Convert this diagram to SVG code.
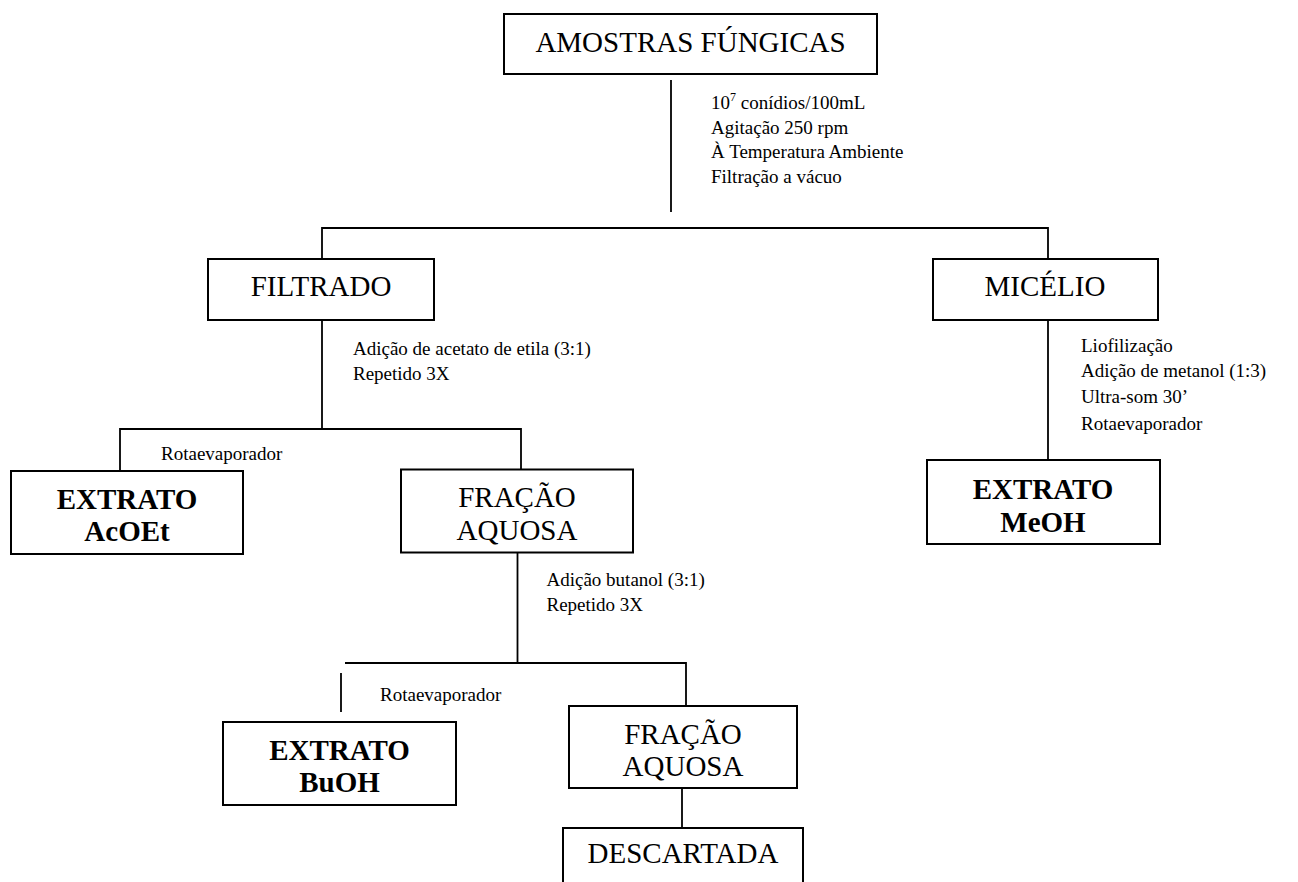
<svg xmlns="http://www.w3.org/2000/svg" width="1298" height="882" viewBox="0 0 1298 882">
<style>
.box{fill:#fff;stroke:#000;stroke-width:2}
.ln{stroke:#000;stroke-width:1.8;fill:none}
.big{font-family:"Liberation Serif","Times New Roman",serif;font-size:29px;fill:#000;text-anchor:middle}
.bold{font-weight:bold}
.sm{font-family:"Liberation Serif","Times New Roman",serif;font-size:19px;fill:#000}
</style>
<rect width="1298" height="882" fill="#fff"/>
<g id="connectors">
<line class="ln" x1="671" y1="80" x2="671" y2="212"/>
<polyline class="ln" points="322,259 322,228 1048,228 1048,259"/>
<line class="ln" x1="322" y1="320" x2="322" y2="429"/>
<polyline class="ln" points="120,471 120,429 521,429 521,469.5"/>
<line class="ln" x1="1048" y1="320" x2="1048" y2="460"/>
<line class="ln" x1="517.5" y1="552.5" x2="517.5" y2="663"/>
<polyline class="ln" points="345,663 686,663 686,706"/>
<line class="ln" x1="341" y1="673" x2="341" y2="712"/>
<line class="ln" x1="682" y1="788" x2="682" y2="828"/>
</g>
<g id="labels">
<text class="sm" x="711" y="109">10<tspan font-size="12" dy="-8">7</tspan><tspan dy="8"> conídios/100mL</tspan></text>
<text class="sm" x="711" y="133.5">Agitação 250 rpm</text>
<text class="sm" x="711" y="158">À Temperatura Ambiente</text>
<text class="sm" x="711" y="182.5">Filtração a vácuo</text>
<text class="sm" x="353" y="355">Adição de acetato de etila (3:1)</text>
<text class="sm" x="353" y="380">Repetido 3X</text>
<text class="sm" x="161" y="459.5">Rotaevaporador</text>
<text class="sm" x="1081" y="352">Liofilização</text>
<text class="sm" x="1081" y="377">Adição de metanol (1:3)</text>
<text class="sm" x="1081" y="403">Ultra-som 30’</text>
<text class="sm" x="1081" y="430">Rotaevaporador</text>
<text class="sm" x="546.5" y="585.5">Adição butanol (3:1)</text>
<text class="sm" x="546.5" y="610.5">Repetido 3X</text>
<text class="sm" x="380" y="701">Rotaevaporador</text>
</g>
<g id="amostras">
<rect class="box" x="504" y="14" width="373" height="60"/>
<text class="big" x="690.5" y="52">AMOSTRAS FÚNGICAS</text>
</g>
<g id="filtrado">
<rect class="box" x="208" y="259" width="226" height="61"/>
<text class="big" x="321" y="296">FILTRADO</text>
</g>
<g id="micelio">
<rect class="box" x="933" y="259" width="225" height="61"/>
<text class="big" x="1045" y="296">MICÉLIO</text>
</g>
<g id="extrato-acoet">
<rect class="box" x="11" y="471" width="232" height="83"/>
<text class="big bold" x="127" y="509">EXTRATO</text>
<text class="big bold" x="127" y="541">AcOEt</text>
</g>
<g id="fracao-aquosa-1">
<rect class="box" x="401" y="469.5" width="232" height="83"/>
<text class="big" x="517" y="507">FRAÇÃO</text>
<text class="big" x="517" y="539.5">AQUOSA</text>
</g>
<g id="extrato-meoh">
<rect class="box" x="927" y="460" width="233" height="84"/>
<text class="big bold" x="1043" y="499">EXTRATO</text>
<text class="big bold" x="1043" y="531.5">MeOH</text>
</g>
<g id="extrato-buoh">
<rect class="box" x="223" y="722" width="233" height="83"/>
<text class="big bold" x="339.5" y="760">EXTRATO</text>
<text class="big bold" x="339.5" y="792">BuOH</text>
</g>
<g id="fracao-aquosa-2">
<rect class="box" x="569" y="706" width="228" height="82"/>
<text class="big" x="683" y="743.5">FRAÇÃO</text>
<text class="big" x="683" y="776">AQUOSA</text>
</g>
<g id="descartada">
<rect class="box" x="563" y="828" width="240" height="70"/>
<text class="big" x="683" y="863">DESCARTADA</text>
</g>
</svg>
